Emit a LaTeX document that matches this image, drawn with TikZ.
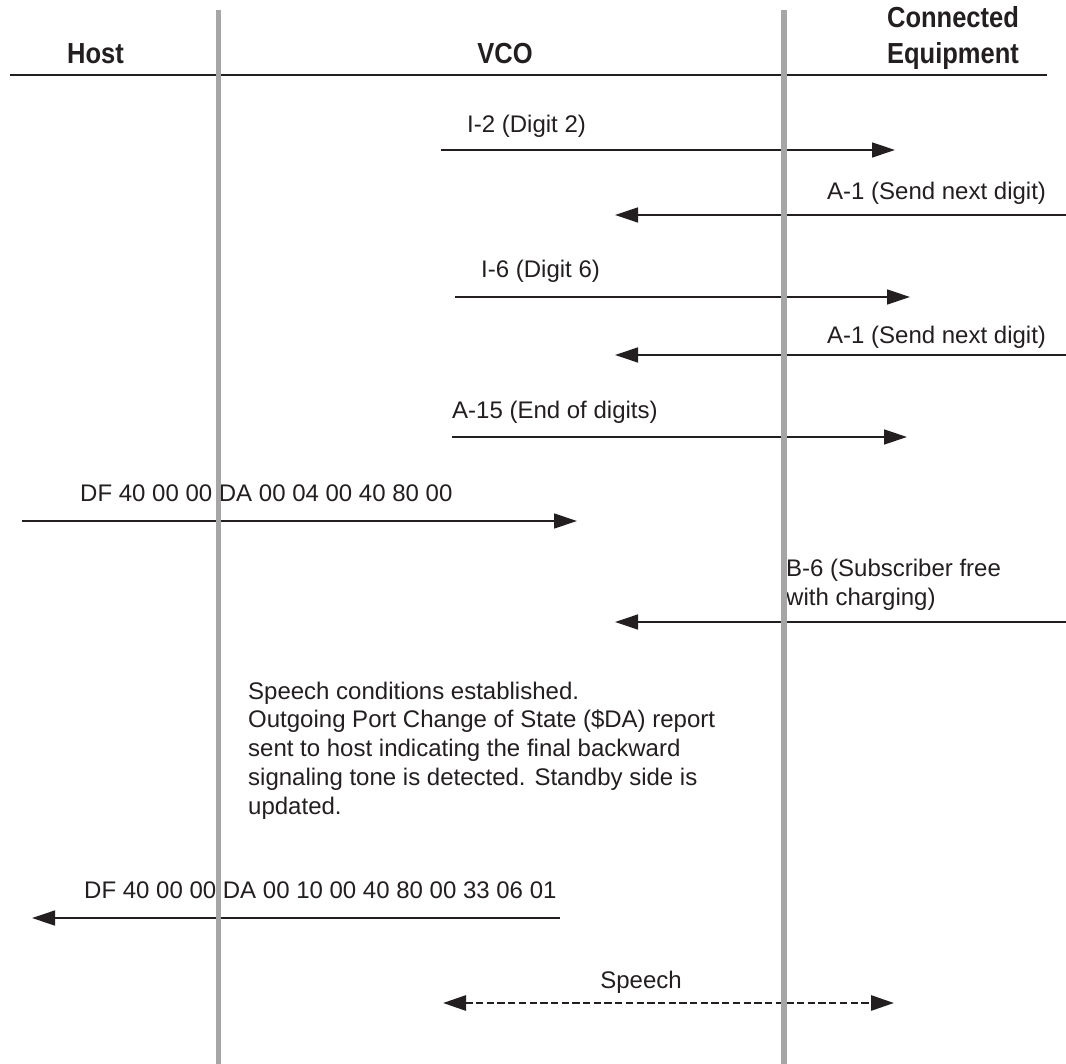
\documentclass[tikz,border=0pt]{standalone}
\usepackage{fontspec}
\setmainfont{Liberation Sans}
\newfontfamily\headfont[FakeStretch=0.88]{Liberation Sans}
\usetikzlibrary{arrows.meta}
\definecolor{ink}{HTML}{231F20}
\definecolor{lifegray}{HTML}{A6A6A6}
\begin{document}
\begin{tikzpicture}[x=1pt,y=-1pt,
  msg/.style={draw=ink,line width=1.3pt,-{Triangle[length=23pt,width=15pt]}},
  speechmsg/.style={draw=ink,line width=2.8pt,dash pattern=on 7.3pt off 3.4pt,
     {Triangle[length=23pt,width=15pt]}-{Triangle[length=23pt,width=15pt]}},
  lbl/.style={inner sep=0pt,text=ink,font=\fontsize{24}{28.7}\selectfont},
  head/.style={inner sep=0pt,text=ink,font=\fontsize{29}{36}\headfont\bfseries},
  life/.style={draw=lifegray,line width=5.5pt}]
\useasboundingbox (0,0) rectangle (1066,1064);
\fill[white] (0,0) rectangle (1066,1064);

% headers
\node[head,anchor=base] (hhost) at (95.5,64) {Host};
\node[head,anchor=base] (hvco) at (505,64) {VCO};
\node[head,anchor=base] (hce1) at (953,28) {Connected};
\node[head,anchor=base] (hce2) at (953,64) {Equipment};
\coordinate (rl) at (10,75);
\coordinate (rr) at (1047,75);
\draw[ink,line width=2.6pt] (rl) -- (rr);

% message 1
\coordinate (m1s) at (441,150); \coordinate (m1e) at (895,150);
\node[lbl,anchor=base west] (t1) at (467,133) {I-2 (Digit 2)};
\draw[msg] (m1s) -- (m1e);
% message 2
\coordinate (m2s) at (1066,215); \coordinate (m2e) at (615,215);
\node[lbl,anchor=base west] (t2) at (827,200) {A-1 (Send next digit)};
\draw[msg] (m2s) -- (m2e);
% message 3
\coordinate (m3s) at (455,297); \coordinate (m3e) at (910,297);
\node[lbl,anchor=base west] (t3) at (481,278) {I-6 (Digit 6)};
\draw[msg] (m3s) -- (m3e);
% message 4
\coordinate (m4s) at (1066,355); \coordinate (m4e) at (615,355);
\node[lbl,anchor=base west] (t4) at (827,344) {A-1 (Send next digit)};
\draw[msg] (m4s) -- (m4e);
% message 5
\coordinate (m5s) at (452,437); \coordinate (m5e) at (907,437);
\node[lbl,anchor=base west] (t5) at (452,419) {A-15 (End of digits)};
\draw[msg] (m5s) -- (m5e);
% message 6
\coordinate (m6s) at (22,521); \coordinate (m6e) at (577,521);
\node[lbl,anchor=base west] (t6) at (80,501) {DF 40 00 00 DA 00 04 00 40 80 00};
\draw[msg] (m6s) -- (m6e);
% message 7
\coordinate (m7s) at (1066,622); \coordinate (m7e) at (615,622);
\node[lbl,anchor=base west,align=left] (t7) at (786,605) {B-6 (Subscriber free\\with charging)};
\draw[msg] (m7s) -- (m7e);
% note (base anchor = last line)
\node[lbl,anchor=base west,align=left] (note) at (248,814) {Speech conditions established.\\Outgoing Port Change of State (\$DA) report\\sent to host indicating the final backward\\signaling tone is detected. Standby side is\\updated.};
% message 9
\coordinate (m9s) at (560,918); \coordinate (m9e) at (32,918);
\node[lbl,anchor=base west] (t9) at (84,898) {DF 40 00 00 DA 00 10 00 40 80 00 33 06 01};
\draw[msg] (m9s) -- (m9e);
% speech
\coordinate (m10s) at (443,1003); \coordinate (m10e) at (894,1003);
\node[lbl,anchor=base] (t10) at (641,988) {Speech};
\draw[speechmsg] (m10s) -- (m10e);

% lifelines on top
\coordinate (l1t) at (218.5,10); \coordinate (l1b) at (218.5,1064);
\coordinate (l2t) at (784,10); \coordinate (l2b) at (784,1064);
\draw[life] (l1t) -- (l1b);
\draw[life] (l2t) -- (l2b);
\end{tikzpicture}
\end{document}
